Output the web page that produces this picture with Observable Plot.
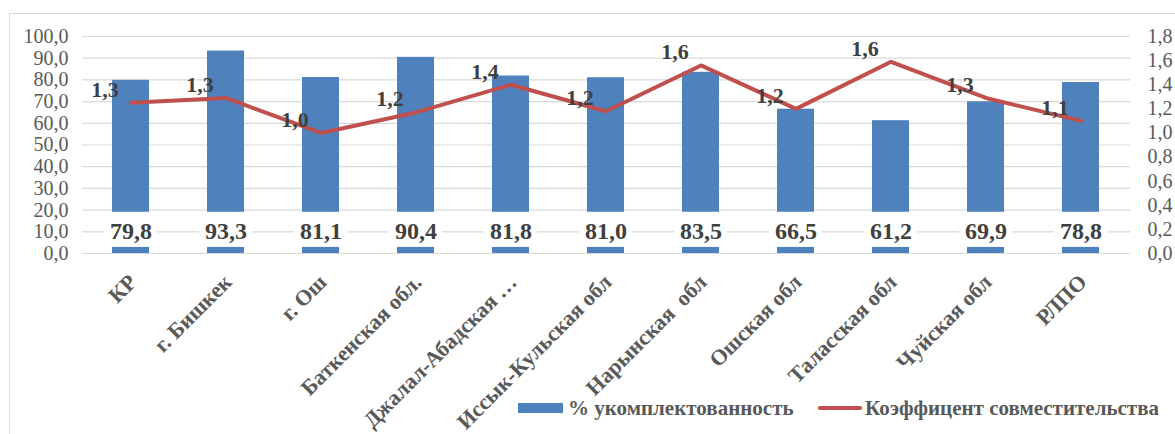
<!DOCTYPE html>
<html>
<head>
<meta charset="utf-8">
<script src="https://cdn.jsdelivr.net/npm/d3@7"></script>
<script src="https://cdn.jsdelivr.net/npm/@observablehq/plot@0.6"></script>
<style>
  html, body { margin: 0; padding: 0; background: #fff; overflow: hidden; width: 1175px; height: 434px; }
  #wrap { position: relative; width: 1175px; height: 434px; }
  #frame { position: absolute; left: 9px; top: 13px; width: 1200px; height: 500px; border: 1px solid #d9d9d9; box-sizing: border-box; }
  #chart { position: absolute; left: 0; top: 0; }
  #chart svg, #chart svg text { font-family: 'Liberation Serif', serif !important; }
  #chart g[aria-label="y-axis tick label"] { font-size: 20px !important; }
  #legend { position: absolute; top: 394px; left: 0; width: 1175px; height: 28px; font-family: 'Liberation Serif', serif; font-weight: bold; font-size: 21px; color: #595959; }
  .item { position: absolute; top: 0; display: flex; align-items: center; height: 28px; white-space: nowrap; }
  .sw { display: inline-block; margin-right: 5px; }
</style>
</head>
<body>
<div id="wrap">
  <div id="frame"></div>
  <div id="chart"></div>
  <div id="legend">
    <div class="item" style="left:518px"><span class="sw" style="width:45px;height:10px;background:#4f81bd"></span><span id="l1"></span></div>
    <div class="item" style="left:818px"><span class="sw" style="width:44px;height:4px;background:#c0504d;border-radius:2px;margin-right:3px"></span><span id="l2"></span></div>
  </div>
</div>
<script>
const categories = ["КР", "г. Бишкек", "г. Ош", "Баткенская обл.", "Джалал-Абадская …", "Иссык-Кульская обл", "Нарынская  обл", "Ошская обл", "Таласская обл", "Чуйская обл", "РЛПО"];
const staffing = [79.8, 93.3, 81.1, 90.4, 81.8, 81.0, 83.5, 66.5, 61.2, 69.9, 78.8];
const coefficient = [1.25, 1.29, 1.00, 1.17, 1.40, 1.18, 1.56, 1.20, 1.59, 1.29, 1.10];
const coefficientLabels = ["1,3", "1,3", "1,0", "1,2", "1,4", "1,2", "1,6", "1,2", "1,6", "1,3", "1,1"];
const leftTicks = [0, 10, 20, 30, 40, 50, 60, 70, 80, 90, 100];
const rightTicks = [0, 0.2, 0.4, 0.6, 0.8, 1.0, 1.2, 1.4, 1.6, 1.8];
const seriesNames = ["% укомплектованность", "Коэффицент совместительства"];

document.getElementById("l1").textContent = seriesNames[0];
document.getElementById("l2").textContent = seriesNames[1];

const rightMax = 1.8, leftMax = 100;
const k = leftMax / rightMax;
const comma = v => v.toFixed(1).replace(".", ",");

const data = categories.map((c, i) => ({cat: c, pct: staffing[i], coef: coefficient[i], coefLabel: coefficientLabels[i]}));

const serif = "'Liberation Serif', serif";

const chart = Plot.plot({
  width: 1175,
  height: 434,
  marginTop: 36,
  marginBottom: 181,
  marginLeft: 82,
  marginRight: 45,
  style: {fontFamily: serif, background: "transparent", overflow: "visible"},
  x: {type: "band", domain: categories, paddingInner: 0.61, paddingOuter: 0.3, align: 0.5, axis: null},
  y: {domain: [0, leftMax], axis: null},
  marks: [
    Plot.ruleY(leftTicks, {stroke: "#d9d9d9", strokeWidth: 1.2}),
    Plot.barY(data, {x: "cat", y: "pct", fill: "#4f81bd"}),
    Plot.barY(data, {x: "cat", y1: () => 2.8, y2: () => 19, fill: "white", insetLeft: -8, insetRight: -8}),
    Plot.text(data, {x: "cat", y: () => 10.4, text: d => comma(d.pct), fontSize: 24, fontWeight: "bold", fill: "#404040"}),
    Plot.line(data, {x: "cat", y: d => d.coef * k, stroke: "#c0504d", strokeWidth: 4, strokeLinecap: "round", strokeLinejoin: "round"}),
    Plot.text(data, {x: "cat", y: d => d.coef * k, text: "coefLabel", dx: -26, dy: -13, fontSize: 22, fontWeight: "bold", fill: "#404040"}),
    Plot.axisY({anchor: "left", label: null, ticks: leftTicks, tickFormat: comma, tickSize: 0, tickPadding: 14, fontSize: 20, fill: "#595959"}),
    Plot.axisY({anchor: "right", label: null, ticks: rightTicks.map(t => t * k), tickFormat: v => comma(v / k), tickSize: 0, tickPadding: 17, fontSize: 20, fill: "#595959", textAnchor: "start"}),
    Plot.text(categories, {x: d => d, frameAnchor: "bottom", rotate: -45, textAnchor: "end", dx: 7, dy: 30, fontSize: 22, fontWeight: "bold", fill: "#595959"})
  ]
});
document.getElementById("chart").appendChild(chart);
</script>
</body>
</html>
